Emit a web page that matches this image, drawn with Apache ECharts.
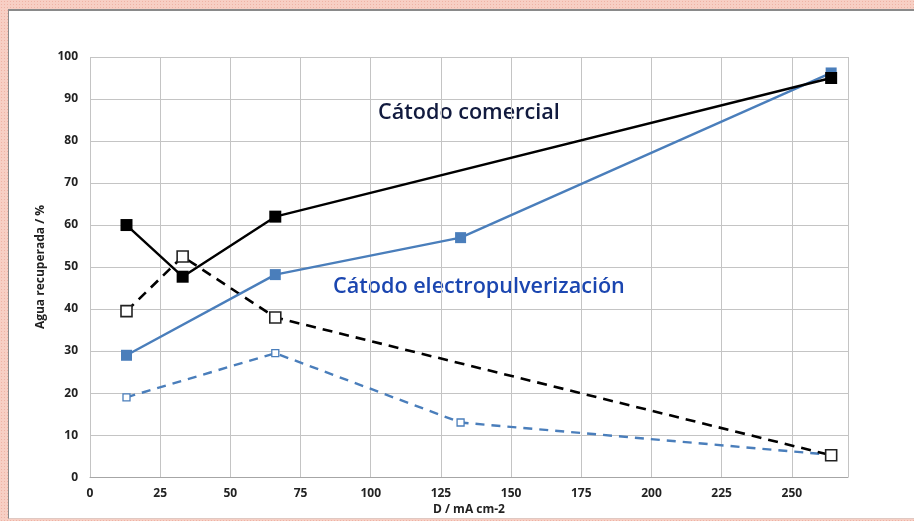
<!DOCTYPE html>
<html><head><meta charset="utf-8">
<script src="https://cdn.jsdelivr.net/npm/echarts@6/dist/echarts.min.js"></script>
<style>
html,body{margin:0;padding:0;}
body{width:914px;height:521px;position:relative;overflow:hidden;
background:#f7cfc4;background-image:radial-gradient(#eeb3a5 0.8px, transparent 1px);background-size:3px 3px;}
#frame{position:absolute;left:8px;top:9px;width:906px;height:510px;background:#fff;border-left:1px solid #8a8a8a;border-top:2px solid #8a8a8a;border-bottom:1px solid #e0c8c2;box-sizing:border-box;}
#main{position:absolute;left:0;top:0;width:914px;height:521px;}
</style></head>
<body><div id="frame"></div><div id="main"></div>
<script>
var comercialX = [13, 33, 66, 264];
var comercialSolid = [60, 47.7, 62, 95];
var comercialDashed = [39.5, 52.5, 38, 5.2];
var electroX = [13, 66, 132, 264];
var electroSolid = [29, 48.2, 57, 96.2];
var electroDashed = [19, 29.5, 13, 5.3];
var xTicks = [0, 25, 50, 75, 100, 125, 150, 175, 200, 225, 250];
var yTicks = [0, 10, 20, 30, 40, 50, 60, 70, 80, 90, 100];

function pairs(xs, ys){ return xs.map(function(x,i){ return [x, ys[i]]; }); }
var blue = '#4a7ebb';
var chart = echarts.init(document.getElementById('main'), null, {renderer:'canvas'});
var lbl = {fontFamily:'Open Sans', fontWeight:'bold', fontSize:12, color:'#222'};
chart.setOption({
  animation:false,
  grid:{left:90, right:66, top:57, bottom:41},
  xAxis:{type:'value', min:0, max:270, interval:25,
    name:'D / mA cm-2', nameLocation:'middle', nameGap:24,
    nameTextStyle:{fontFamily:'Open Sans', fontWeight:'bold', fontSize:12, color:'#222'},
    axisLine:{show:true, lineStyle:{color:'#a6a6a6'}},
    axisTick:{show:false},
    axisLabel:Object.assign({margin:10, showMaxLabel:false, formatter:function(v){return xTicks.indexOf(v)>=0? String(v):'';}}, lbl),
    splitLine:{show:true, lineStyle:{color:'#c4c4c4', width:1}}
  },
  yAxis:{type:'value', min:0, max:100, interval:10,
    name:'Agua recuperada / %', nameLocation:'middle', nameGap:43, nameRotate:90,
    nameTextStyle:{fontFamily:'Open Sans', fontWeight:'bold', fontSize:12, color:'#222'},
    axisLine:{show:false}, axisTick:{show:false},
    axisLabel:Object.assign({margin:12, formatter:function(v){return yTicks.indexOf(v)>=0? String(v):'';}}, lbl),
    splitLine:{show:true, lineStyle:{color:'#c4c4c4', width:1}}
  },
  series:[
    {type:'line', data:pairs(electroX, electroDashed), symbol:'rect', symbolSize:7,
      lineStyle:{color:blue, width:2.4, type:[9,7]}, itemStyle:{color:'#fff', borderColor:blue, borderWidth:1.3}, z:2},
    {type:'line', data:pairs(comercialX, comercialDashed), symbol:'rect', symbolSize:11,
      lineStyle:{color:'#000', width:2.6, type:[10,7]}, itemStyle:{color:'#fff', borderColor:'#222', borderWidth:1.6}, z:3},
    {type:'line', data:pairs(electroX, electroSolid), symbol:'rect', symbolSize:11,
      lineStyle:{color:blue, width:2.4}, itemStyle:{color:blue}, z:4},
    {type:'line', data:pairs(comercialX, comercialSolid), symbol:'rect', symbolSize:12,
      lineStyle:{color:'#000', width:2.4}, itemStyle:{color:'#000'}, z:5}
  ],
  graphic:[
    {type:'text', left:378, top:102, style:{text:'Cátodo comercial', fontFamily:'Open Sans', fontWeight:600, fontSize:21.6, fill:'#111a3e'}},
    {type:'text', left:333, top:276, style:{text:'Cátodo electropulverización', fontFamily:'Open Sans', fontWeight:600, fontSize:21.6, fill:'#1b46b0'}}
  ]
});
</script></body></html>
